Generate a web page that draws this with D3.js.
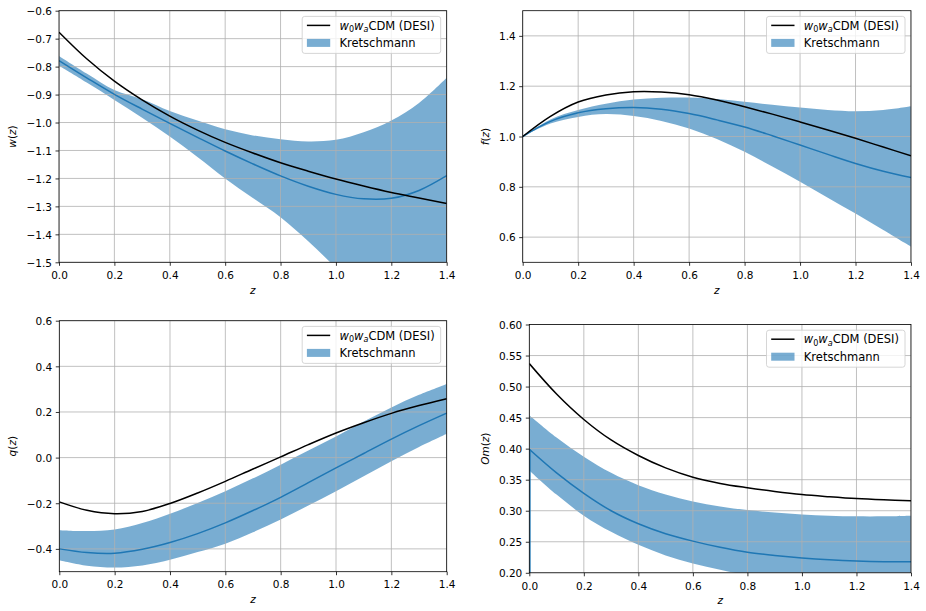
<!DOCTYPE html>
<html><head><meta charset="utf-8">
<script src="https://cdn.jsdelivr.net/npm/d3@7"></script>
<style>body{margin:0;background:#fff} text{font-family:"DejaVu Sans",sans-serif;fill:#000}</style>
</head><body><svg id="c" width="926" height="611"></svg>
<script>
// ---------- data ----------
const zGrid = [0,0.1,0.2,0.3,0.4,0.5,0.6,0.7,0.8,0.9,1.0,1.1,1.2,1.3,1.4];
const xTicks = [0,0.2,0.4,0.6,0.8,1.0,1.2,1.4];

// w(z)
const wDesi  = [-0.677,-0.772,-0.852,-0.919,-0.977,-1.027,-1.071,-1.109,-1.144,-1.174,-1.202,-1.227,-1.250,-1.270,-1.290];
const wMean  = [-0.779,-0.840,-0.899,-0.952,-1.003,-1.053,-1.102,-1.148,-1.191,-1.228,-1.257,-1.273,-1.271,-1.243,-1.190];
const wUpper = [-0.762,-0.825,-0.884,-0.917,-0.959,-0.993,-1.024,-1.046,-1.060,-1.068,-1.062,-1.035,-0.993,-0.930,-0.840];
const wLower = [-0.797,-0.857,-0.919,-0.983,-1.050,-1.123,-1.200,-1.270,-1.339,-1.425,-1.520,-1.620,-1.730,-1.850,-1.970];
const wTicks = [-1.5,-1.4,-1.3,-1.2,-1.1,-1.0,-0.9,-0.8,-0.7,-0.6];

// f(z)
const fDesi  = [1.000,1.080,1.137,1.165,1.178,1.177,1.166,1.145,1.118,1.089,1.058,1.026,0.993,0.958,0.923];
const fMean  = [1.000,1.060,1.094,1.110,1.115,1.108,1.091,1.066,1.038,1.003,0.966,0.929,0.893,0.862,0.837];
const fUpper = [1.000,1.068,1.105,1.130,1.147,1.154,1.155,1.149,1.138,1.126,1.115,1.105,1.100,1.105,1.120];
const fLower = [1.000,1.052,1.078,1.089,1.081,1.062,1.032,0.990,0.939,0.881,0.820,0.757,0.694,0.628,0.562];
const fTicks = [0.6,0.8,1.0,1.2,1.4];

// q(z)
const qDesi  = [-0.194,-0.231,-0.246,-0.236,-0.201,-0.155,-0.104,-0.050,0.003,0.057,0.108,0.153,0.194,0.228,0.258];
const qMean  = [-0.400,-0.416,-0.419,-0.402,-0.372,-0.333,-0.286,-0.232,-0.174,-0.110,-0.045,0.018,0.081,0.140,0.195];
const qUpper = [-0.318,-0.322,-0.315,-0.287,-0.246,-0.199,-0.147,-0.091,-0.031,0.031,0.093,0.158,0.220,0.275,0.323];
const qLower = [-0.450,-0.474,-0.482,-0.473,-0.448,-0.414,-0.377,-0.327,-0.271,-0.210,-0.147,-0.082,-0.016,0.047,0.105];
const qTicks = [-0.4,-0.2,0.0,0.2,0.4,0.6];

// Om(z)
const omDesi  = [0.537,0.488,0.447,0.414,0.389,0.369,0.354,0.344,0.337,0.331,0.326,0.3225,0.3195,0.3175,0.316];
const omMean  = [0.399,0.361,0.328,0.300,0.279,0.263,0.251,0.241,0.233,0.228,0.224,0.221,0.219,0.218,0.218];
const omUpper = [0.454,0.418,0.387,0.361,0.341,0.326,0.315,0.307,0.301,0.297,0.294,0.292,0.291,0.291,0.292];
const omLower = [0.365,0.326,0.292,0.266,0.245,0.228,0.215,0.205,0.196,0.189,0.183,0.179,0.176,0.174,0.173];
const omMeanAtZero = 0.0; // first sample of the mean curve drops at z = 0
const omTicks = [0.20,0.25,0.30,0.35,0.40,0.45,0.50,0.55,0.60];

const legendLabels = ["CDM (DESI)", "Kretschmann"];

// ---------- layout ----------
const panels = [
  {name:"w",  box:{l:59,t:10.7,r:446.7,b:262.3}, dom:[-1.5,-0.6], ticks:wTicks, fmt:".1f", lab:[["w",1],["(",0],["z",1],[")",0]], labX:12,
   desi:wDesi, mean:wMean, up:wUpper, lo:wLower},
  {name:"f",  box:{l:522.7,t:10.7,r:911,b:262.3}, dom:[0.5,1.5], ticks:fTicks, fmt:".1f", lab:[["f",1],["(",0],["z",1],[")",0]], labX:485,
   desi:fDesi, mean:fMean, up:fUpper, lo:fLower},
  {name:"q",  box:{l:59.3,t:320.7,r:446.7,b:571.7}, dom:[-0.5,0.6], ticks:qTicks, fmt:".1f", lab:[["q",1],["(",0],["z",1],[")",0]], labX:12,
   desi:qDesi, mean:qMean, up:qUpper, lo:qLower},
  {name:"om", box:{l:529.3,t:324.5,r:911,b:572.8}, dom:[0.2,0.6], ticks:omTicks, fmt:".2f", lab:[["Om",1],["(",0],["z",1],[")",0]], labX:485,
   desi:omDesi, mean:omMean, up:omUpper, lo:omLower, lead:omMeanAtZero}
];

const svg = d3.select("#c");
const defs = svg.append("defs");
const BAND = "#1f77b4", GRID = "#b0b0b0";
const TF = 10.5, LF = 11.5;

panels.forEach((p, i) => {
  const b = p.box;
  const x = d3.scaleLinear().domain([0, 1.4]).range([b.l, b.r]);
  const y = d3.scaleLinear().domain(p.dom).range([b.b, b.t]);
  const g = svg.append("g");
  const cid = "clip" + i;
  defs.append("clipPath").attr("id", cid).append("rect")
    .attr("x", b.l).attr("y", b.t).attr("width", b.r - b.l).attr("height", b.b - b.t);

  const pts = zGrid.map((z, k) => ({z, d:p.desi[k], m:p.mean[k], u:p.up[k], l:p.lo[k]}));
  const curve = d3.curveCatmullRom.alpha(0.5);
  const plot = g.append("g").attr("clip-path", `url(#${cid})`);

  // band
  plot.append("path").datum(pts)
    .attr("d", d3.area().x(d => x(d.z)).y0(d => y(d.l)).y1(d => y(d.u)).curve(curve))
    .attr("fill", BAND).attr("fill-opacity", 0.6);

  // grid
  const gg = plot.append("g").attr("stroke", GRID).attr("stroke-width", 0.8);
  xTicks.forEach(t => gg.append("line").attr("x1", x(t)).attr("x2", x(t)).attr("y1", b.t).attr("y2", b.b));
  p.ticks.forEach(t => gg.append("line").attr("x1", b.l).attr("x2", b.r).attr("y1", y(t)).attr("y2", y(t)));

  // lines
  if (p.lead !== undefined) {
    plot.append("path").datum([[0, p.lead], [0, p.mean[0]]])
      .attr("d", d3.line().x(d => x(d[0]) + 0.6).y(d => y(d[1])))
      .attr("fill", "none").attr("stroke", BAND).attr("stroke-width", 1.5);
  }
  plot.append("path").datum(pts)
    .attr("d", d3.line().x(d => x(d.z)).y(d => y(d.m)).curve(curve))
    .attr("fill", "none").attr("stroke", BAND).attr("stroke-width", 1.5);
  plot.append("path").datum(pts)
    .attr("d", d3.line().x(d => x(d.z)).y(d => y(d.d)).curve(curve))
    .attr("fill", "none").attr("stroke", "#000").attr("stroke-width", 1.5);

  // axes
  const xa = d3.axisBottom(x).tickValues(xTicks).tickFormat(d3.format(".1f")).tickSize(3.5).tickPadding(3.5);
  const ya = d3.axisLeft(y).tickValues(p.ticks).tickFormat(d3.format(p.fmt)).tickSize(3.5).tickPadding(3.5);
  const gx = g.append("g").attr("transform", `translate(0,${b.b})`).call(xa);
  const gy = g.append("g").attr("transform", `translate(${b.l},0)`).call(ya);
  [gx, gy].forEach(a => {
    a.select(".domain").remove();
    a.selectAll(".tick line").attr("stroke", "#000").attr("stroke-width", 0.8);
    a.selectAll(".tick text").attr("font-size", TF).attr("font-family", "DejaVu Sans").attr("fill", "#000");
  });
  gx.selectAll(".tick text").attr("dy", null).attr("y", 16.8);
  gy.selectAll(".tick text").attr("dy", "0.36em");

  // spines
  g.append("rect").attr("x", b.l).attr("y", b.t).attr("width", b.r - b.l).attr("height", b.b - b.t)
    .attr("fill", "none").attr("stroke", "#000").attr("stroke-width", 0.8);

  // axis labels
  g.append("text").attr("x", (b.l + b.r) / 2).attr("y", b.b + 31.5)
    .attr("text-anchor", "middle").attr("font-size", TF).attr("font-style", "italic").text("z");
  const yl = g.append("text").attr("transform", `translate(${p.labX},${(b.t + b.b) / 2}) rotate(-90)`)
    .attr("text-anchor", "middle").attr("dy", "0.35em").attr("font-size", TF);
  p.lab.forEach(([s, it]) => yl.append("tspan").attr("font-style", it ? "italic" : "normal").text(s));

  // legend
  const lw = 138.5, lh = 37;
  const lx = b.r - 6 - lw, ly = b.t + 5.7;
  const lg = g.append("g");
  lg.append("rect").attr("x", lx).attr("y", ly).attr("width", lw).attr("height", lh).attr("rx", 2.5)
    .attr("fill", "#fff").attr("fill-opacity", 0.8).attr("stroke", "#cccccc").attr("stroke-width", 0.8);
  const r1 = ly + 9, r2 = ly + 26.5;
  lg.append("line").attr("x1", lx + 4.7).attr("x2", lx + 28).attr("y1", r1).attr("y2", r1)
    .attr("stroke", "#000").attr("stroke-width", 1.5);
  lg.append("rect").attr("x", lx + 4.7).attr("y", r2 - 4).attr("width", 23.3).attr("height", 8)
    .attr("fill", BAND).attr("fill-opacity", 0.6);
  const t1 = lg.append("text").attr("x", lx + 37.3).attr("y", r1).attr("dy", "0.36em").attr("font-size", LF);
  t1.append("tspan").attr("font-style", "italic").text("w");
  t1.append("tspan").attr("font-size", LF * 0.7).attr("dy", 2.5).text("0");
  t1.append("tspan").attr("font-style", "italic").attr("dy", -2.5).text("w");
  t1.append("tspan").attr("font-style", "italic").attr("font-size", LF * 0.7).attr("dy", 2.5).text("a");
  t1.append("tspan").attr("dy", -2.5).text(legendLabels[0]);
  lg.append("text").attr("x", lx + 37.3).attr("y", r2).attr("dy", "0.36em").attr("font-size", LF).text(legendLabels[1]);
});
</script></body></html>
